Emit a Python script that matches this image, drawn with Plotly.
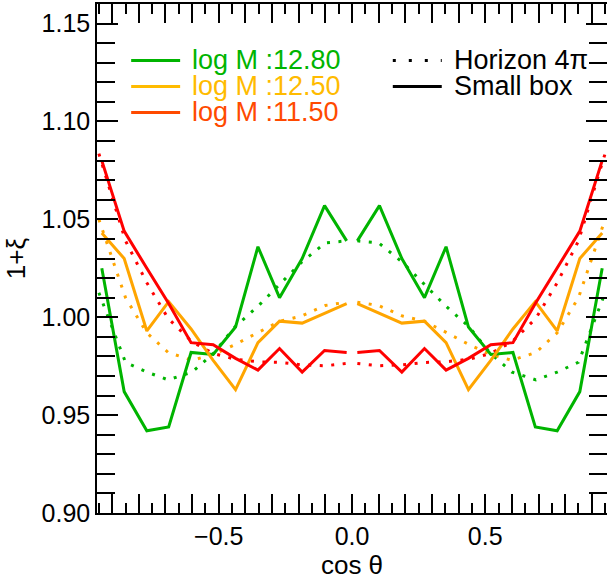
import plotly.graph_objects as go

# ---- data ----
x_box = [-0.939, -0.855, -0.770, -0.688, -0.604, -0.521, -0.437, -0.353, -0.272, -0.187, -0.103, -0.020, None,
         0.020, 0.103, 0.187, 0.272, 0.353, 0.437, 0.521, 0.604, 0.688, 0.770, 0.855, 0.939]
x_hor = [-0.950, -0.850, -0.770, -0.690, -0.600, -0.520, -0.440, -0.350, -0.270, -0.190, -0.100, -0.020, None,
         0.020, 0.100, 0.190, 0.270, 0.350, 0.440, 0.520, 0.600, 0.690, 0.770, 0.850, 0.950]

box_1280 = [1.025, 0.962, 0.942, 0.944, 0.982, 0.981, 0.995, 1.036, 1.010, 1.030, 1.057, 1.039, None,
            1.039, 1.057, 1.030, 1.010, 1.036, 0.995, 0.981, 0.982, 0.944, 0.942, 0.962, 1.025]
box_1250 = [1.043, 1.030, 0.993, 1.008, 0.994, 0.978, 0.963, 0.987, 0.998, 0.997, 1.002, 1.007, None,
            1.007, 1.002, 0.997, 0.998, 0.987, 0.963, 0.978, 0.994, 1.008, 0.993, 1.030, 1.043]
box_1150 = [1.080, 1.044, 1.025, 1.007, 0.987, 0.986, 0.979, 0.973, 0.984, 0.972, 0.983, 0.982, None,
            0.982, 0.983, 0.972, 0.984, 0.973, 0.979, 0.986, 0.987, 1.007, 1.025, 1.044, 1.080]

hor_1280 = [1.0125, 0.977, 0.972, 0.968, 0.972, 0.9815, 0.995, 1.006, 1.017, 1.028, 1.038, 1.039, None,
            1.039, 1.038, 1.028, 1.017, 1.006, 0.995, 0.9815, 0.972, 0.968, 0.972, 0.977, 1.0125]
hor_1250 = [1.050, 1.010, 0.992, 0.982, 0.978, 0.981, 0.986, 0.9925, 0.998, 1.0006, 1.006, 1.0077, None,
            1.0077, 1.006, 1.0006, 0.998, 0.9925, 0.986, 0.981, 0.978, 0.982, 0.992, 1.010, 1.050]
hor_1150 = [1.0836, 1.039, 1.0176, 0.9994, 0.9874, 0.9815, 0.9786, 0.9772, 0.9769, 0.9757, 0.9752, 0.9764, None,
            0.9764, 0.9752, 0.9757, 0.9769, 0.9772, 0.9786, 0.9815, 0.9874, 0.9994, 1.0176, 1.039, 1.0836]

mass_labels = ["log M :12.80", "log M :12.50", "log M :11.50"]
line_colors = ["#00b400", "#ffa500", "#ff0000"]
text_colors = ["#00b400", "#ffbb00", "#ff4a00"]
style_labels = ["Horizon 4π", "Small box"]

x_tickvals = [-0.9, -0.8, -0.7, -0.6, -0.5, -0.4, -0.3, -0.2, -0.1, 0.0, 0.1, 0.2, 0.3, 0.4, 0.5, 0.6, 0.7, 0.8, 0.9]
x_ticktext = ["", "", "", "", "−0.5", "", "", "", "", "0.0", "", "", "", "", "0.5", "", "", "", ""]
y_tickvals = [0.90, 0.95, 1.00, 1.05, 1.10, 1.15]

FONT = "Liberation Sans, Arial, Helvetica, sans-serif"
DOT = "3px,8.5px"

fig = go.Figure()
for xs, ys, col, lab in zip([x_hor] * 3, [hor_1280, hor_1250, hor_1150], line_colors, mass_labels):
    fig.add_trace(go.Scatter(x=xs, y=ys, mode="lines", name=lab + " (Horizon 4π)",
                             line=dict(color=col, width=3, dash=DOT),
                             connectgaps=False, showlegend=False))
for xs, ys, col, lab in zip([x_box] * 3, [box_1280, box_1250, box_1150], line_colors, mass_labels):
    fig.add_trace(go.Scatter(x=xs, y=ys, mode="lines", name=lab + " (Small box)",
                             line=dict(color=col, width=3),
                             connectgaps=False, showlegend=False))

# manual legend (left block: masses)
leg_y = [0.889, 0.838, 0.787]
for i, (lab, lc, tc) in enumerate(zip(mass_labels, line_colors, text_colors)):
    fig.add_shape(type="line", xref="paper", yref="paper", x0=0.067, x1=0.163, y0=leg_y[i], y1=leg_y[i],
                  line=dict(color=tc, width=3))
    fig.add_annotation(xref="paper", yref="paper", x=0.182, y=leg_y[i], text=lab, showarrow=False,
                       xanchor="left", yanchor="middle", font=dict(family=FONT, size=27, color=tc))
# right block: line styles
for i, (lab, dash) in enumerate(zip(style_labels, ["3px,13px", "solid"])):
    fig.add_shape(type="line", xref="paper", yref="paper", x0=0.580, x1=0.676, y0=leg_y[i], y1=leg_y[i],
                  line=dict(color="black", width=3, dash=dash))
    fig.add_annotation(xref="paper", yref="paper", x=0.697, y=leg_y[i], text=lab, showarrow=False,
                       xanchor="left", yanchor="middle", font=dict(family=FONT, size=27, color="black"))

axis_common = dict(showline=True, linecolor="black", linewidth=1.5, mirror="allticks",
                   ticks="inside", tickcolor="black", tickwidth=1.5, showgrid=False, zeroline=False,
                   tickfont=dict(family=FONT, size=25, color="black"))

fig.update_xaxes(range=[-0.957, 0.957], tickmode="array", tickvals=x_tickvals, ticktext=x_ticktext,
                 ticklen=19,
                 minor=dict(tickmode="linear", tick0=0, dtick=0.05, ticklen=10, ticks="inside",
                            tickcolor="black", tickwidth=1.5),
                 title=dict(text="cos θ", font=dict(family=FONT, size=26, color="black"), standoff=2),
                 **axis_common)
fig.update_yaxes(range=[0.90, 1.16], tickmode="array", tickvals=y_tickvals, tickformat=".2f",
                 ticklen=21,
                 minor=dict(tickmode="linear", tick0=0.9, dtick=0.01, ticklen=18, ticks="inside",
                            tickcolor="black", tickwidth=1.5),
                 title=dict(text="1+ξ", font=dict(family=FONT, size=26, color="black"), standoff=8),
                 **axis_common)

fig.update_layout(width=609, height=580, margin=dict(l=97, r=0, t=4, b=67),
                  plot_bgcolor="white", paper_bgcolor="white", showlegend=False,
                  font=dict(family=FONT, color="black"))

fig.write_html("out.html", config={"displayModeBar": False},
               post_script="document.body.style.margin='0';document.body.style.overflow='hidden';"
                           "document.documentElement.style.overflow='hidden';")
